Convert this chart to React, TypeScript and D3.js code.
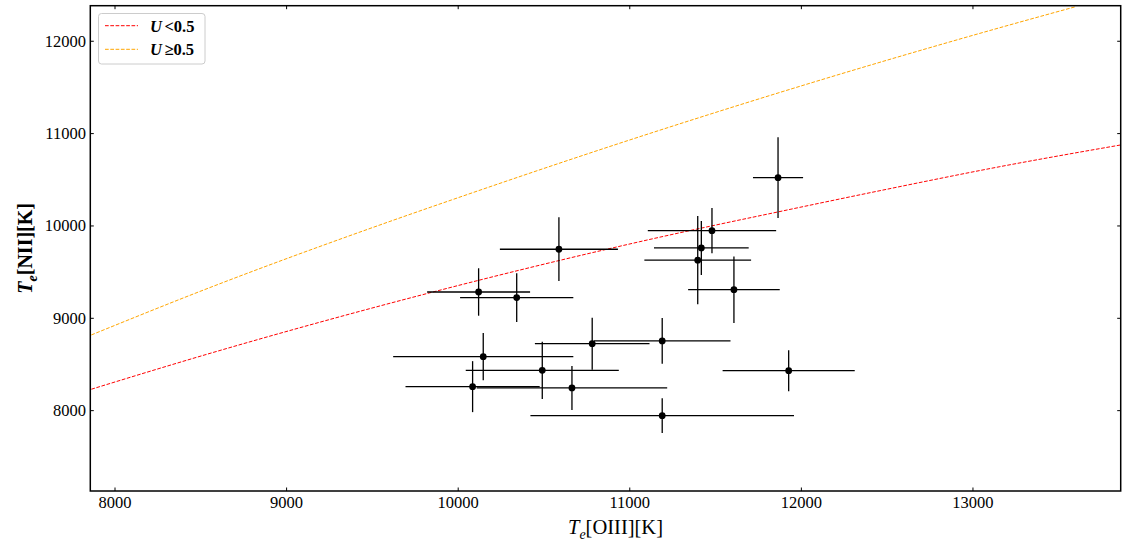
import React from 'react';
import * as d3 from 'd3';

// Data points: Te[OIII], Te[NII] with symmetric errors
const teOIII = [10119, 10341, 10587, 11479, 11417, 11396, 11607, 10146, 10490, 10781, 11189, 10084, 10663, 11189, 11926, 11864];
const teNII = [9285, 9224, 9748, 9949, 9762, 9629, 9310, 8585, 8437, 8725, 8755, 8260, 8246, 7946, 8433, 10523];
const errOIII = [300, 330, 344, 374, 276, 311, 267, 525, 446, 334, 398, 391, 555, 768, 385, 146];
const errNII = [257, 264, 345, 245, 292, 478, 360, 255, 310, 282, 247, 276, 238, 188, 222, 438];

// Relation curves
const lowUX = [7862, 8542, 9544, 11059, 11992, 12458, 13157, 13861];
const lowUY = [8232, 8614, 9134, 9830, 10202, 10382, 10642, 10877];
const highUX = [7862, 8542, 9544, 9962, 11059, 13157, 13600];
const highUY = [8820, 9325, 10011, 10282, 10967, 12147, 12375];

const xTicks = [8000, 9000, 10000, 11000, 12000, 13000];
const yTicks = [8000, 9000, 10000, 11000, 12000];

const W = 1122;
const H = 545;
const L = 90.3, R = 1120.7, T = 5.7, B = 491;
const FONT = '"Liberation Serif", "Times New Roman", serif';

export default function App() {
  const x = d3.scaleLinear().domain([7856, 13861]).range([L, R]);
  const y = d3.scaleLinear().domain([7130, 12385]).range([B, T]);

  const line = d3
    .line<[number, number]>()
    .x((d) => x(d[0]))
    .y((d) => y(d[1]))
    .curve(d3.curveMonotoneX);

  const lowPts: [number, number][] = lowUX.map((v, i) => [v, lowUY[i]]);
  const highPts: [number, number][] = highUX.map((v, i) => [v, highUY[i]]);

  const tickLen = 3.5;

  return (
    <svg
      width={W}
      height={H}
      style={{ position: 'absolute', left: 0, top: 0, display: 'block', background: '#fff' }}
      fontFamily={FONT}
    >
      <defs>
        <clipPath id="plotclip">
          <rect x={L} y={T} width={R - L} height={B - T} />
        </clipPath>
      </defs>
      <rect x={0} y={0} width={W} height={H} fill="#fff" />

      <g clipPath="url(#plotclip)">
        <path d={line(lowPts) || ''} fill="none" stroke="#ff0000" strokeWidth={1} strokeDasharray="3.7 1.6" />
        <path d={line(highPts) || ''} fill="none" stroke="#ffa500" strokeWidth={1} strokeDasharray="3.7 1.6" />

        {teOIII.map((xv, i) => (
          <g key={i}>
            <line x1={x(xv - errOIII[i])} x2={x(xv + errOIII[i])} y1={y(teNII[i])} y2={y(teNII[i])} stroke="#000" strokeWidth={1.3} />
            <line x1={x(xv)} x2={x(xv)} y1={y(teNII[i] - errNII[i])} y2={y(teNII[i] + errNII[i])} stroke="#000" strokeWidth={1.3} />
            <circle cx={x(xv)} cy={y(teNII[i])} r={3.4} fill="#000" />
          </g>
        ))}
      </g>

      {/* ticks */}
      {xTicks.map((t) => (
        <g key={'xt' + t}>
          <line x1={x(t)} x2={x(t)} y1={B} y2={B - tickLen} stroke="#000" strokeWidth={1} />
          <line x1={x(t)} x2={x(t)} y1={T} y2={T + tickLen} stroke="#000" strokeWidth={1} />
          <text x={x(t)} y={507.5} textAnchor="middle" fontSize={16.5} fill="#000">
            {t}
          </text>
        </g>
      ))}
      {yTicks.map((t) => (
        <g key={'yt' + t}>
          <line x1={L} x2={L + tickLen} y1={y(t)} y2={y(t)} stroke="#000" strokeWidth={1} />
          <line x1={R} x2={R - tickLen} y1={y(t)} y2={y(t)} stroke="#000" strokeWidth={1} />
          <text x={86} y={y(t)} textAnchor="end" dominantBaseline="central" fontSize={16.5} fill="#000">
            {t}
          </text>
        </g>
      ))}

      {/* frame */}
      <rect x={L} y={T} width={R - L} height={B - T} fill="none" stroke="#000" strokeWidth={1.5} />

      {/* axis labels */}
      <text x={(L + R) / 2 + 10} y={534} textAnchor="middle" fontSize={20.5} fill="#000">
        <tspan fontStyle="italic">T</tspan>
        <tspan fontStyle="italic" fontSize={14} dy={5}>e</tspan>
        <tspan dy={-5}>[OIII][K]</tspan>
      </text>
      <text
        transform={`translate(32, ${(T + B) / 2}) rotate(-90)`}
        textAnchor="middle"
        fontSize={20}
        fontWeight="bold"
        fill="#000"
      >
        <tspan fontStyle="italic">T</tspan>
        <tspan fontStyle="italic" fontSize={14} dy={5}>e</tspan>
        <tspan dy={-5}>[NII][K]</tspan>
      </text>

      {/* legend */}
      <rect x={98.5} y={13.5} width={106.5} height={50.5} rx={3} fill="#fff" fillOpacity={0.8} stroke="#cccccc" strokeWidth={1} />
      <line x1={105} x2={138} y1={25.7} y2={25.7} stroke="#ff0000" strokeWidth={1} strokeDasharray="3.7 1.6" />
      <line x1={105} x2={138} y1={49.3} y2={49.3} stroke="#ffa500" strokeWidth={1} strokeDasharray="3.7 1.6" />
      <text x={150} y={31.5} fontSize={16.5} fontWeight="bold" fill="#000">
        <tspan fontStyle="italic">U</tspan>
        <tspan dx={2.5}>{'<0.5'}</tspan>
      </text>
      <text x={150} y={55} fontSize={16.5} fontWeight="bold" fill="#000">
        <tspan fontStyle="italic">U</tspan>
        <tspan dx={2.5}>{'\u22650.5'}</tspan>
      </text>
    </svg>
  );
}
